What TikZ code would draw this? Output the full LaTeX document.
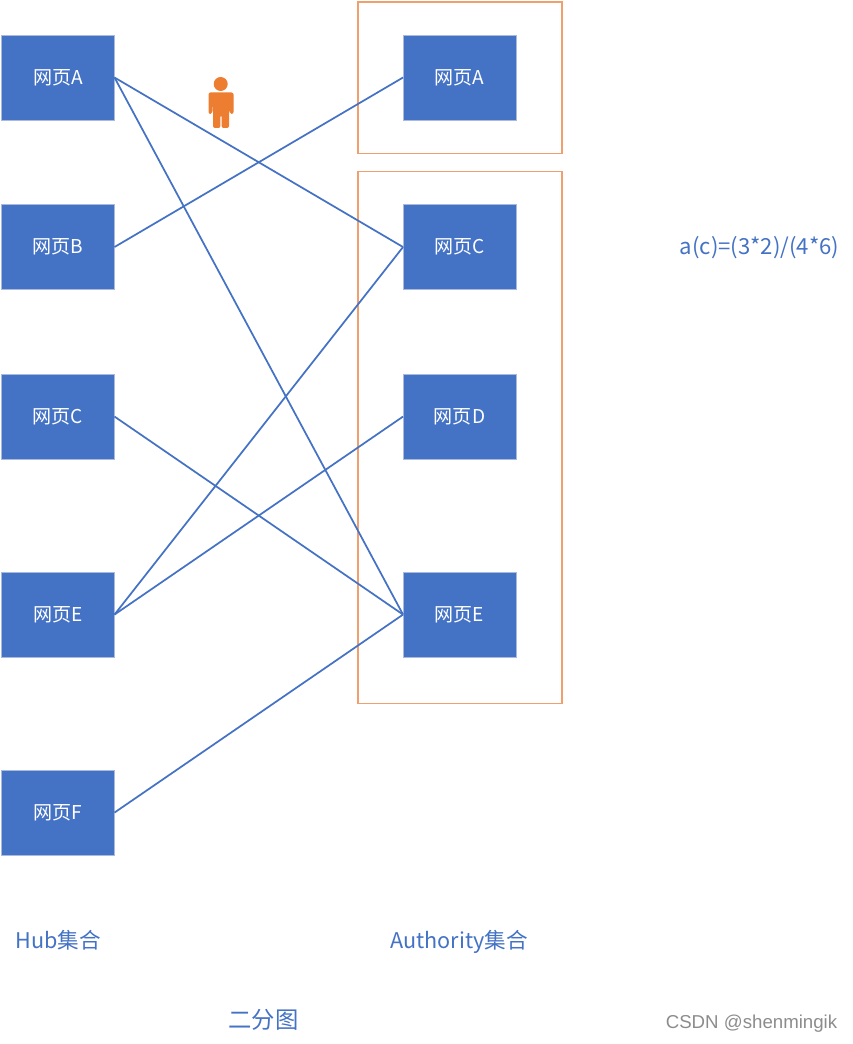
\documentclass[tikz,border=0pt]{standalone}
\usepackage{fontspec}
\setmainfont{Noto Sans CJK SC}
\newfontfamily\wmfont{Liberation Sans}
\usetikzlibrary{positioning,fit,backgrounds}
\definecolor{C1}{RGB}{68,114,196}
\definecolor{C1b}{RGB}{170,186,220}
\definecolor{C2}{RGB}{237,125,49}
\definecolor{C2b}{RGB}{240,160,110}

\begin{document}
\begin{tikzpicture}[
  x=0.75pt, y=-0.75pt,
  node distance = 63.4pt and 216.4pt,
  pagebox/.style = {
    rectangle, draw=C1b, fill=C1, line width=0.6pt, outer sep=0pt,
    align=center, minimum width=84.75pt, minimum height=63.75pt,
    inner sep=0pt, text=white, font=\fontsize{14.3}{16}\selectfont
  },
  groupbox/.style = {
    rectangle, draw=C2b, line width=0.9pt, outer sep=0pt,
    inner xsep=34.1pt, inner ysep=0pt, xshift=0.3pt
  },
  lbl/.style = {text=C1, inner sep=0pt, font=\fontsize{16.2}{19}\selectfont},
  la/.style  = {draw=C1, line width=1.3pt}
]
\useasboundingbox (0,0) rectangle (852,1044);

%% ---------- Hub column ----------
\node[pagebox] (hA) at (58,77.5) {网页A};
\node[pagebox, below=of hA] (hB) {网页B};
\node[pagebox, below=of hB] (hC) {网页C};
\node[pagebox, below=84.75pt of hC] (hE) {网页E};
\node[pagebox, below=84.75pt of hE] (hF) {网页F};

%% ---------- Authority column ----------
\node[pagebox, right=of hA] (rA) {网页A};
\node[pagebox, right=of hB] (rC) {网页C};
\node[pagebox, right=of hC] (rD) {网页D};
\node[pagebox, right=of hE] (rE) {网页E};

%% ---------- Groups ----------
\begin{scope}[on background layer]
  \node[groupbox, inner ysep=25.1pt, yshift=-0.3pt, fit=(rA)] (grpA) {};
  \node[groupbox, inner ysep=29.8pt, yshift=-5pt, fit=(rC)(rE)] (grpB) {};
\end{scope}

%% ---------- Person ----------
\node[circle, fill=C2, minimum size=10.5pt, inner sep=0pt] (head) at (220.7,84) {};
\fill[C2, rounded corners=1.5pt] (208.5,92.5) -- (233.5,92.5) -- (233.5,114) -- (229.7,114)
  -- (229,103) -- (229,128) -- (221.6,128) -- (221.6,115) -- (220.4,115) -- (220.4,128)
  -- (213,128) -- (213,103) -- (212.3,114) -- (208.5,114) -- cycle;

%% ---------- Edges ----------
\draw[la] (hA.east) -- (rC.west);
\draw[la] (hA.east) -- (rE.west);
\draw[la] (hB.east) -- (rA.west);
\draw[la] (hC.east) -- (rE.west);
\draw[la] (hE.east) -- (rC.west);
\draw[la] (hE.east) -- (rD.west);
\draw[la] (hF.east) -- (rE.west);

%% ---------- Labels ----------
\node[lbl, font=\fontsize{16.6}{19}\selectfont] (formula) at (759.5,247.5) {a(c)=(3*2)/(4*6)};
\node[lbl] (hub) at (58,940.5) {Hub集合};
\node[lbl] (auth) at (459,941.5) {Authority集合};
\node[lbl, font=\fontsize{17.5}{20}\selectfont] (bip) at (263.5,1020) {二分图};
\node[text=black!45, inner sep=0pt, font=\wmfont\fontsize{14}{16}\selectfont] (mark) at (751.5,1024) {CSDN @shenmingik};

\end{tikzpicture}
\end{document}
